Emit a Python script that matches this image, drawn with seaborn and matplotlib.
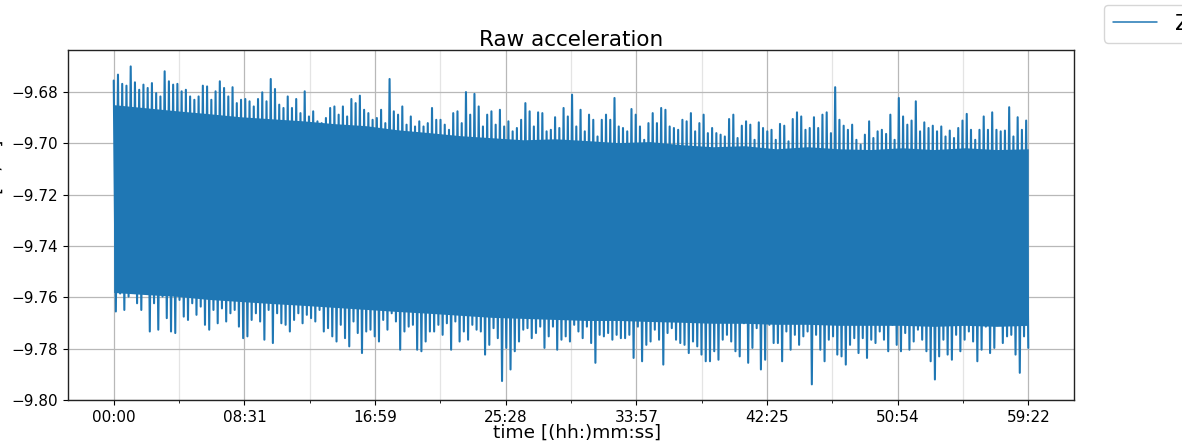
import numpy as np
import matplotlib
matplotlib.use("Agg")
import matplotlib.pyplot as plt
import seaborn as sns
from matplotlib.ticker import AutoMinorLocator, FixedLocator

# ---------------- data ----------------
duration_s = 3562  # 59:22

# local maxima of the Z signal, in time order
z_peaks = [
    -9.6755, -9.6732, -9.6768, -9.6775, -9.6700, -9.6762, -9.6791, -9.6771, -9.6784, -9.6765,
    -9.6804, -9.6817, -9.6719, -9.6758, -9.6771, -9.6768, -9.6797, -9.6791, -9.6817, -9.6830,
    -9.6817, -9.6775, -9.6778, -9.6830, -9.6797, -9.6758, -9.6784, -9.6817, -9.6781, -9.6843,
    -9.6830, -9.6827, -9.6836, -9.6856, -9.6827, -9.6801, -9.6836, -9.6749, -9.6788, -9.6849,
    -9.6862, -9.6817, -9.6862, -9.6827, -9.6882, -9.6797, -9.6895, -9.6875, -9.6914, -9.6921,
    -9.6901, -9.6862, -9.6856, -9.6888, -9.6856, -9.6895, -9.6827, -9.6843, -9.6814, -9.6869,
    -9.6882, -9.6908, -9.6901, -9.6869, -9.6921, -9.6749, -9.6875, -9.6888, -9.6856, -9.6927,
    -9.6895, -9.6934,
    -9.6914, -9.6934, -9.6921, -9.6862, -9.6908, -9.6908, -9.6927, -9.6947, -9.6882, -9.6875,
    -9.6921, -9.6800, -9.6888, -9.6807, -9.6856, -9.6934, -9.6888, -9.6875, -9.6927, -9.6869,
    -9.6934, -9.6914, -9.6953, -9.6940, -9.6908, -9.6843, -9.6875, -9.6934, -9.6879, -9.6882,
    -9.6953, -9.6947, -9.6898, -9.6940, -9.6862, -9.6895, -9.6810, -9.6934, -9.6869, -9.6953,
    -9.6888, -9.6908, -9.6973, -9.6908, -9.6888, -9.6908, -9.6823, -9.6934, -9.6940, -9.6953,
    -9.6866, -9.6888, -9.6934, -9.6986, -9.6921, -9.6882, -9.6921, -9.6862, -9.6869, -9.6934,
    -9.6940, -9.6947, -9.6908, -9.6914, -9.6882, -9.6953, -9.6921, -9.6888, -9.6960, -9.6940,
    -9.6960, -9.6966,
    -9.6973, -9.6905, -9.6888, -9.6979, -9.6931, -9.6914, -9.6927, -9.6986, -9.6918, -9.6940,
    -9.6953, -9.6947, -9.6986, -9.6924, -9.6931, -9.6992, -9.6905, -9.6879, -9.6895, -9.6947,
    -9.6940, -9.6898, -9.6940, -9.6888, -9.6879, -9.6960, -9.6781, -9.6908, -9.6931, -9.6947,
    -9.6927, -9.6986, -9.7005, -9.6966, -9.6914, -9.6979, -9.6953, -9.6947, -9.6963, -9.6888,
    -9.6986, -9.6823, -9.6895, -9.6927, -9.6911, -9.6836, -9.6953, -9.6918, -9.6940, -9.6931,
    -9.6953, -9.6934, -9.6973, -9.6950, -9.6979, -9.6940, -9.6911, -9.6885, -9.6947, -9.6986,
    -9.6947, -9.6895, -9.6947, -9.6879, -9.6947, -9.6953, -9.6950, -9.6859, -9.6973, -9.6898,
    -9.6947, -9.6911,
]

# local minima of the Z signal, in time order
z_troughs = [
    -9.7655, -9.7585, -9.7649, -9.7597, -9.7546, -9.7623, -9.7649, -9.7585, -9.7733, -9.7623,
    -9.7726, -9.7597, -9.7681, -9.7733, -9.7739, -9.7610, -9.7675, -9.7688, -9.7623, -9.7668,
    -9.7636, -9.7707, -9.7726, -9.7649, -9.7701, -9.7643, -9.7694, -9.7662, -9.7649, -9.7714,
    -9.7759, -9.7752, -9.7688, -9.7662, -9.7694, -9.7765, -9.7649, -9.7778, -9.7662, -9.7701,
    -9.7707, -9.7733, -9.7688, -9.7662, -9.7701, -9.7668, -9.7681, -9.7694, -9.7649, -9.7733,
    -9.7720, -9.7752, -9.7772, -9.7707, -9.7759, -9.7791, -9.7694, -9.7739, -9.7817, -9.7733,
    -9.7726, -9.7752, -9.7772, -9.7688, -9.7726, -9.7662, -9.7694, -9.7804, -9.7733, -9.7714,
    -9.7707, -9.7804,
    -9.7810, -9.7772, -9.7733, -9.7733, -9.7707, -9.7746, -9.7701, -9.7804, -9.7694, -9.7772,
    -9.7733, -9.7765, -9.7707, -9.7726, -9.7733, -9.7823, -9.7785, -9.7720, -9.7759, -9.7926,
    -9.7797, -9.7881, -9.7810, -9.7772, -9.7726, -9.7720, -9.7759, -9.7739, -9.7714, -9.7797,
    -9.7752, -9.7714, -9.7804, -9.7765, -9.7752, -9.7772, -9.7707, -9.7733, -9.7759, -9.7714,
    -9.7778, -9.7855, -9.7746, -9.7752, -9.7739, -9.7765, -9.7746, -9.7759, -9.7759, -9.7746,
    -9.7836, -9.7714, -9.7849, -9.7785, -9.7772, -9.7726, -9.7765, -9.7862, -9.7739, -9.7720,
    -9.7765, -9.7778, -9.7785, -9.7817, -9.7772, -9.7791, -9.7823, -9.7849, -9.7849, -9.7810,
    -9.7843, -9.7765,
    -9.7746, -9.7772, -9.7810, -9.7830, -9.7701, -9.7855, -9.7797, -9.7720, -9.7881, -9.7843,
    -9.7707, -9.7778, -9.7778, -9.7849, -9.7733, -9.7804, -9.7746, -9.7785, -9.7752, -9.7733,
    -9.7939, -9.7746, -9.7804, -9.7849, -9.7765, -9.7752, -9.7823, -9.7830, -9.7862, -9.7785,
    -9.7759, -9.7817, -9.7759, -9.7836, -9.7765, -9.7778, -9.7733, -9.7765, -9.7810, -9.7707,
    -9.7785, -9.7810, -9.7739, -9.7804, -9.7772, -9.7726, -9.7765, -9.7810, -9.7849, -9.7920,
    -9.7830, -9.7765, -9.7823, -9.7843, -9.7746, -9.7810, -9.7765, -9.7733, -9.7772, -9.7849,
    -9.7804, -9.7714, -9.7817, -9.7797, -9.7688, -9.7778, -9.7752, -9.7746, -9.7823, -9.7894,
    -9.7752, -9.7797,
]

# edges of the dense (solid) core of the signal band
core_high = [
    -9.6849, -9.6861, -9.6873, -9.6884, -9.6896, -9.6904, -9.6912, -9.6923, -9.6931, -9.6947,
    -9.6958, -9.6970, -9.6978, -9.6986, -9.6982, -9.6989, -9.6997, -9.6993, -9.7005, -9.7013,
    -9.7009, -9.7021, -9.7013, -9.7021, -9.7024, -9.7017, -9.7024, -9.7017, -9.7024, -9.7021,
]
core_low = [
    -9.7581, -9.7589, -9.7596, -9.7608, -9.7616, -9.7624, -9.7631, -9.7639, -9.7647, -9.7655,
    -9.7662, -9.7670, -9.7678, -9.7682, -9.7686, -9.7690, -9.7690, -9.7694, -9.7697, -9.7701,
    -9.7701, -9.7705, -9.7705, -9.7709, -9.7709, -9.7709, -9.7713, -9.7709, -9.7713, -9.7709,
]

tick_labels = ["00:00", "08:31", "16:59", "25:28", "33:57", "42:25", "50:54", "59:22"]

# ---------------- build series ----------------
n = len(z_peaks)
t = np.linspace(0, duration_s, 2 * n)
z = np.empty(2 * n)
z[0::2] = z_peaks
z[1::2] = z_troughs
t_core = np.linspace(0, duration_s, len(core_high))

# ---------------- plot ----------------
sns.set_style("ticks")
plt.rcParams["font.family"] = ["DejaVu Sans"]
plt.rcParams["text.color"] = "black"
plt.rcParams["axes.labelcolor"] = "black"
plt.rcParams["xtick.color"] = "black"
plt.rcParams["ytick.color"] = "black"

fig = plt.figure(figsize=(11.82, 4.41), dpi=100)
ax = fig.add_axes([68 / 1182, 1 - 400 / 441, (1074 - 68) / 1182, (400 - 50) / 441])

color = "#1f77b4"
ax.fill_between(t_core, core_low, core_high, color=color, linewidth=0, zorder=2)
sns.lineplot(x=t, y=z, ax=ax, color=color, linewidth=1.5, label="Z",
             estimator=None, sort=False, zorder=3)

ax.set_xlim(-0.05 * duration_s, 1.05 * duration_s)
ax.set_ylim(-9.80, -9.6636)
ax.set_yticks([-9.80, -9.78, -9.76, -9.74, -9.72, -9.70, -9.68])
ax.set_yticklabels(["\u22129.80", "\u22129.78", "\u22129.76", "\u22129.74",
                    "\u22129.72", "\u22129.70", "\u22129.68"])
ax.xaxis.set_major_locator(FixedLocator(np.linspace(0, duration_s, len(tick_labels))))
ax.set_xticklabels(tick_labels)
ax.xaxis.set_minor_locator(AutoMinorLocator(2))

ax.tick_params(axis="both", which="major", labelsize=11, length=3.5, width=0.8,
               color="black", labelcolor="black")
ax.tick_params(axis="x", which="minor", length=2, width=0.6, color="black")

ax.grid(True, which="major", color="#b8b8b8", linewidth=0.9, zorder=0)
ax.grid(True, which="minor", axis="x", color="#e4e4e4", linewidth=0.9, zorder=0)
ax.set_axisbelow(True)

for s in ax.spines.values():
    s.set_visible(True)
    s.set_color("#222222")
    s.set_linewidth(1.0)

ax.set_title("Raw acceleration", fontsize=15.5, color="black", pad=3)
ax.set_xlabel("time [(hh:)mm:ss]", fontsize=13.3, labelpad=-1, color="black")
ax.xaxis.label.set_x(0.506)
ax.set_ylabel("acceleration [m/s²]", fontsize=13, color="black")
ax.yaxis.set_label_coords(-0.0625, 0.5)

handles, labels = ax.get_legend_handles_labels()
ax.get_legend().remove()
leg = fig.legend(handles, labels, loc="upper left", bbox_to_anchor=(1104 / 1182, 1 - 5 / 441),
                 borderaxespad=0, fontsize=16, frameon=True, framealpha=0.8, edgecolor="#cccccc")
for h in leg.get_lines():
    h.set_linewidth(1.1)

fig.savefig("out.png", dpi=100)
